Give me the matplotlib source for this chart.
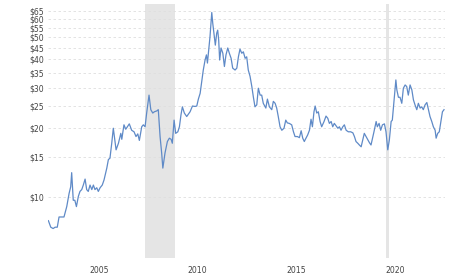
import matplotlib
matplotlib.use("Agg")
import matplotlib.pyplot as plt
from matplotlib.ticker import FixedLocator, NullLocator

# price history (decimal year, dollars)
years = [
    2002.94, 2003.06, 2003.18, 2003.28, 2003.39, 2003.48, 2003.60, 2003.73, 2003.87, 2003.99,
    2004.07, 2004.12, 2004.20, 2004.28, 2004.36, 2004.46, 2004.54, 2004.63, 2004.71, 2004.80,
    2004.88, 2004.96, 2005.05, 2005.14, 2005.22, 2005.30, 2005.39, 2005.47, 2005.56, 2005.67,
    2005.76, 2005.90, 2005.98, 2006.06, 2006.15, 2006.23, 2006.37, 2006.49, 2006.61, 2006.66,
    2006.77, 2006.86, 2006.94, 2007.04, 2007.16, 2007.28, 2007.38, 2007.47, 2007.55, 2007.67,
    2007.75, 2007.84, 2007.92, 2008.04, 2008.13, 2008.23, 2008.31, 2008.43, 2008.51, 2008.60,
    2008.68, 2008.74, 2008.85, 2008.97, 2009.07, 2009.16, 2009.22, 2009.31, 2009.39, 2009.50,
    2009.58, 2009.66, 2009.73, 2009.83, 2009.95, 2010.12, 2010.24, 2010.37, 2010.46, 2010.54,
    2010.63, 2010.71, 2010.79, 2010.88, 2010.95, 2011.00, 2011.05, 2011.13, 2011.18, 2011.22,
    2011.27, 2011.35, 2011.40, 2011.47, 2011.52, 2011.57, 2011.62, 2011.69, 2011.78, 2011.86,
    2011.94, 2012.03, 2012.11, 2012.20, 2012.28, 2012.40, 2012.49, 2012.57, 2012.65, 2012.74,
    2012.82, 2012.91, 2012.99, 2013.07, 2013.16, 2013.25, 2013.33, 2013.41, 2013.50, 2013.58,
    2013.67, 2013.75, 2013.83, 2013.96, 2014.04, 2014.14, 2014.26, 2014.34, 2014.43, 2014.51,
    2014.59, 2014.68, 2014.77, 2014.88, 2014.97, 2015.05, 2015.15, 2015.27, 2015.36, 2015.44,
    2015.56, 2015.66, 2015.75, 2015.83, 2015.91, 2015.95, 2016.08, 2016.17, 2016.25, 2016.32,
    2016.40, 2016.46, 2016.54, 2016.62, 2016.71, 2016.79, 2016.91, 2017.01, 2017.10, 2017.18,
    2017.27, 2017.35, 2017.43, 2017.52, 2017.61, 2017.69, 2017.77, 2017.86, 2017.94, 2018.03,
    2018.14, 2018.26, 2018.37, 2018.45, 2018.53, 2018.62, 2018.70, 2018.79, 2018.87, 2018.95,
    2019.04, 2019.13, 2019.21, 2019.29, 2019.33, 2019.44, 2019.55, 2019.61, 2019.70, 2019.78,
    2019.87, 2019.97, 2020.05, 2020.14, 2020.22, 2020.31, 2020.37, 2020.46, 2020.55, 2020.60,
    2020.68, 2020.76, 2020.85, 2020.93, 2021.02, 2021.10, 2021.18, 2021.27, 2021.36, 2021.44,
    2021.52, 2021.61, 2021.69, 2021.78, 2021.86, 2021.94, 2022.03, 2022.12, 2022.20, 2022.28,
    2022.37, 2022.45, 2022.54, 2022.59, 2022.67, 2022.75, 2022.84, 2022.91, 2022.99,
]
prices = [
    7.9, 7.4, 7.3, 7.4, 7.4, 8.2, 8.2, 8.2, 9.1, 10.4,
    11.1, 12.8, 9.7, 9.7, 9.1, 10.1, 10.6, 10.8, 11.3, 12.0,
    10.8, 10.6, 11.3, 10.8, 11.3, 10.8, 11.0, 10.6, 11.0, 11.3,
    11.9, 13.4, 14.6, 14.8, 17.2, 20.0, 16.1, 17.2, 19.0, 17.9,
    20.7, 19.8, 20.3, 20.9, 19.6, 19.3, 18.4, 18.9, 17.7, 20.3,
    20.7, 20.3, 23.3, 27.9, 24.1, 23.3, 23.6, 23.8, 24.1, 18.4,
    15.6, 13.4, 15.6, 17.5, 18.1, 17.9, 17.2, 21.7, 19.0, 19.3,
    20.3, 22.9, 24.8, 23.3, 22.5, 23.6, 25.0, 24.9, 25.0, 26.8,
    28.4, 31.9, 35.9, 39.7, 41.8, 38.5, 42.5, 50.2, 57.4, 64.0,
    57.4, 50.2, 46.1, 52.0, 53.6, 48.6, 39.7, 44.8, 42.5, 37.2,
    41.8, 44.8, 42.5, 40.4, 36.6, 35.9, 36.6, 41.0, 44.3, 42.5,
    43.1, 40.4, 41.0, 35.9, 33.7, 30.4, 27.3, 24.8, 25.3, 29.9,
    27.9, 27.9, 25.7, 24.5, 26.8, 24.8, 24.1, 26.2, 25.7, 24.5,
    22.5, 20.3, 19.6, 20.0, 21.7, 21.1, 21.0, 20.7, 19.3, 18.4,
    18.4, 18.2, 19.5, 18.1, 17.5, 17.8, 18.7, 19.6, 21.9, 20.3,
    23.6, 25.0, 23.3, 23.6, 21.4, 20.3, 21.4, 22.6, 22.1, 21.0,
    21.4, 20.3, 21.0, 20.5, 20.0, 20.3, 19.6, 20.3, 20.7, 19.6,
    19.3, 19.3, 19.1, 18.4, 17.5, 17.2, 16.9, 16.6, 17.8, 19.0,
    18.4, 17.8, 17.3, 16.9, 17.5, 19.3, 21.4, 20.3, 21.0, 19.6,
    20.7, 20.9, 19.3, 16.1, 17.8, 21.4, 21.7, 26.6, 32.5, 29.4,
    27.3, 27.3, 25.7, 29.9, 30.9, 30.4, 27.9, 30.9, 29.4, 26.6,
    25.3, 24.1, 25.7, 24.5, 24.8, 24.1, 25.3, 25.9, 24.1, 22.5,
    21.4, 20.3, 19.6, 18.1, 19.0, 19.3, 21.7, 23.6, 24.1,
]

# recession periods shaded in grey
recessions = [(2007.84, 2009.36), (2020.05, 2020.19)]

y_ticks = [10, 15, 20, 25, 30, 35, 40, 45, 50, 55, 60, 65]
x_ticks = [2005, 2010, 2015, 2020]

fig = plt.figure(figsize=(4.74, 2.75), dpi=100)
ax = fig.add_axes([48 / 474, 1 - 258 / 275, 397 / 474, 254 / 275])

for start, end in recessions:
    ax.axvspan(start, end, color="#e5e5e5", lw=0, zorder=0)

ax.plot(years, prices, color="#5f8ac7", lw=0.9, zorder=3)

ax.set_yscale("log")
ax.set_ylim(5.43, 69.7)
ax.set_xlim(2002.92, 2023.04)

ax.yaxis.set_major_locator(FixedLocator(y_ticks))
ax.yaxis.set_minor_locator(NullLocator())
ax.set_yticklabels(["$%d" % v for v in y_ticks])
ax.set_xticks(x_ticks)
ax.set_xticklabels([str(y) for y in x_ticks], ha="left")

ax.grid(axis="y", color="#dedede", lw=0.6, ls=(0, (3, 3)), zorder=1)
for s in ax.spines.values():
    s.set_visible(False)
ax.tick_params(axis="both", length=0, labelsize=5.6, colors="#444444")
ax.tick_params(axis="y", pad=3)
ax.tick_params(axis="x", pad=6)

fig.savefig("out.png", dpi=100)
